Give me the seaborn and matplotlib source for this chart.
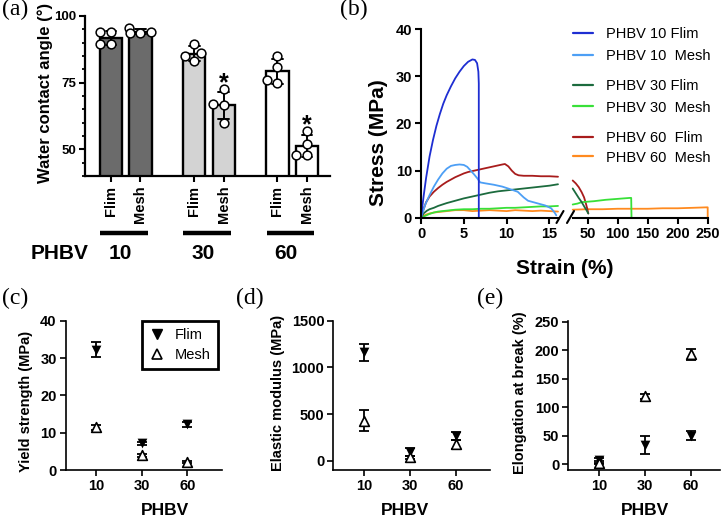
import numpy as np
import pandas as pd
import matplotlib
matplotlib.use("Agg")
import matplotlib.pyplot as plt
from matplotlib.lines import Line2D
from matplotlib.ticker import MultipleLocator
from matplotlib.transforms import blended_transform_factory
import seaborn as sns

# ----------------------------- data -----------------------------
groups = ["10", "30", "60"]
sample_types = ["Flim", "Mesh"]
group_colors = ["#6b6b6b", "#d3d3d3", "#ffffff"]

# (a) water contact angle, individual measurements
wca_10_flim = [94.0, 94.0, 89.5, 89.5]
wca_10_mesh = [95.5, 94.0, 93.5, 93.5]
wca_30_flim = [89.5, 86.0, 83.0, 85.0]
wca_30_mesh = [72.5, 67.0, 66.5, 60.0]
wca_60_flim = [85.0, 81.0, 75.0, 76.0]
wca_60_mesh = [57.0, 52.0, 48.0, 48.0]
significant = [("30", "Mesh"), ("60", "Mesh")]

# (b) stress-strain curves
curve_labels = ["PHBV 10 Flim", "PHBV 10  Mesh", "PHBV 30 Flim",
                "PHBV 30  Mesh", "PHBV 60  Flim", "PHBV 60  Mesh"]
curve_colors = ["#1e2ed2", "#4d9ff5", "#1c6b3e", "#38e038", "#a81c1c", "#ff8a1f"]

# segment 1 (0-16 % strain)
strain_10f_1 = [0, 0.3, 0.6, 1.0, 1.4, 1.8, 2.2, 2.6, 3.0, 3.5, 4.0, 4.5, 5.0, 5.5,
                6.0, 6.3, 6.55, 6.7, 6.75, 6.75]
stress_10f_1 = [0, 4.5, 8.5, 13.0, 16.5, 19.5, 22.0, 24.2, 26.0, 27.9, 29.6, 31.0,
                32.2, 33.1, 33.6, 33.5, 32.8, 31.0, 28.5, 0]
strain_10m_1 = [0, 0.5, 1.0, 1.5, 2.0, 2.5, 3.0, 3.5, 4.0, 4.5, 5.0, 5.4, 5.8, 6.2,
                6.6, 6.9, 7.5, 8.5, 9.5, 10.5, 11.3, 12.0, 12.5, 13.5, 14.5, 15.2,
                15.6, 15.8]
stress_10m_1 = [0, 2.8, 4.8, 6.6, 8.1, 9.4, 10.4, 11.0, 11.2, 11.3, 11.2, 10.8, 10.0,
                9.2, 8.3, 7.5, 7.3, 7.0, 6.6, 6.0, 5.5, 4.3, 3.6, 3.1, 2.6, 2.0,
                1.1, 0.5]
strain_30f_1 = [0, 0.3, 0.7, 1.0, 1.5, 2.0, 3.0, 4.0, 5.0, 6.0, 7.0, 8.0, 9.0, 10.0,
                11.0, 12.0, 13.0, 14.0, 15.0, 16.0]
stress_30f_1 = [0, 0.9, 1.5, 1.8, 2.1, 2.5, 3.1, 3.6, 4.1, 4.5, 4.9, 5.3, 5.6, 5.8,
                6.0, 6.2, 6.4, 6.6, 6.8, 7.1]
strain_30m_1 = [0, 0.5, 1.0, 1.5, 2.0, 3.0, 4.0, 5.0, 6.0, 7.0, 8.0, 9.0, 10.0, 11.0,
                12.0, 13.0, 14.0, 15.0, 16.0]
stress_30m_1 = [0, 0.4, 0.8, 1.1, 1.3, 1.5, 1.7, 1.8, 1.8, 1.9, 1.9, 2.0, 2.1, 2.1,
                2.2, 2.3, 2.4, 2.4, 2.5]
strain_60f_1 = [0, 0.3, 0.6, 1.0, 1.5, 2.0, 2.5, 3.0, 3.5, 4.0, 4.5, 5.0, 5.5, 6.0,
                6.5, 7.0, 7.5, 8.0, 8.5, 9.0, 9.5, 9.8, 10.2, 10.6, 11.0, 11.4, 12.0,
                13.0, 14.0, 15.0, 16.0]
stress_60f_1 = [0, 1.8, 3.3, 4.5, 5.5, 6.3, 7.0, 7.6, 8.1, 8.6, 9.0, 9.4, 9.7, 9.9,
                10.1, 10.3, 10.5, 10.7, 10.9, 11.1, 11.3, 11.4, 10.9, 10.0, 9.3, 9.0,
                8.9, 8.9, 8.8, 8.8, 8.7]
strain_60m_1 = [0, 0.5, 1.0, 1.5, 2.0, 3.0, 4.0, 5.0, 6.0, 7.0, 8.0, 9.0, 10.0, 11.0,
                12.0, 13.0, 14.0, 15.0, 16.0]
stress_60m_1 = [0, 0.6, 0.9, 1.1, 1.2, 1.4, 1.6, 1.6, 1.4, 1.5, 1.6, 1.5, 1.4, 1.6,
                1.5, 1.4, 1.5, 1.4, 1.3]

# segment 2 (25-250 % strain)
strain_30f_2 = [25, 30, 35, 40, 45, 48, 51]
stress_30f_2 = [6.2, 5.2, 4.2, 3.3, 2.2, 1.6, 0.9]
strain_30m_2 = [25, 33, 40, 60, 80, 100, 120, 122.5, 123]
stress_30m_2 = [2.8, 3.0, 3.3, 3.5, 3.8, 4.0, 4.2, 4.2, 0]
strain_60f_2 = [25, 30, 35, 40, 44, 47, 49.5, 51]
stress_60f_2 = [7.9, 7.3, 6.5, 5.4, 4.3, 3.0, 1.8, 0.9]
strain_60m_2 = [25, 50, 75, 100, 125, 150, 175, 200, 225, 248, 250, 250]
stress_60m_2 = [1.7, 1.8, 1.8, 1.9, 1.9, 1.9, 2.0, 2.0, 2.1, 2.2, 2.2, 0]

# (c)-(e) mean and SD
yield_flim = [32.2, 7.1, 12.2]
yield_flim_sd = [2.0, 0.5, 0.7]
yield_mesh = [11.4, 3.9, 2.2]
yield_mesh_sd = [0.6, 0.5, 0.3]
modulus_flim = [1160, 95, 265]
modulus_flim_sd = [95, 40, 45]
modulus_mesh = [430, 35, 175]
modulus_mesh_sd = [115, 15, 50]
elong_flim = [7, 34, 50]
elong_flim_sd = [4, 16, 8]
elong_mesh = [3, 119, 193]
elong_mesh_sd = [2, 4, 10]

# ----------------------------- style -----------------------------
sns.set_theme(style="ticks", rc={"axes.edgecolor": "black", "xtick.color": "black",
                                 "ytick.color": "black", "text.color": "black",
                                 "axes.labelcolor": "black"})
plt.rcParams["font.family"] = ["Liberation Sans", "DejaVu Sans"]
plt.rcParams["font.weight"] = "bold"
plt.rcParams["axes.labelweight"] = "bold"

W, H = 725, 523
fig = plt.figure(figsize=(W / 100, H / 100), dpi=100)


def add_ax(l, t, r, b):
    return fig.add_axes([l / W, 1 - b / H, (r - l) / W, (b - t) / H])


def fx(x):
    return x / W


def fy(y):
    return 1 - y / H


serif = ["Liberation Serif", "DejaVu Serif"]

# ----------------------------- (a) -----------------------------
axA = add_ax(85, 16, 330, 176)
wca_values = {("10", "Flim"): wca_10_flim, ("10", "Mesh"): wca_10_mesh,
              ("30", "Flim"): wca_30_flim, ("30", "Mesh"): wca_30_mesh,
              ("60", "Flim"): wca_60_flim, ("60", "Mesh"): wca_60_mesh}
group_step = 2.82
rec = []
for gi, g in enumerate(groups):
    for ti, t in enumerate(sample_types):
        for v in wca_values[(g, t)]:
            rec.append({"group": g, "type": t, "pos": gi * group_step + ti, "angle": v})
dfa = pd.DataFrame(rec)

sns.barplot(data=dfa, x="pos", y="angle", hue="group", hue_order=groups,
            palette=dict(zip(groups, group_colors)), saturation=1,
            native_scale=True, dodge=False, width=0.75, errorbar="sd",
            capsize=0.36, err_kws={"color": "black", "linewidth": 1.4},
            edgecolor="black", linewidth=1.7, legend=False, ax=axA)
sns.swarmplot(data=dfa, x="pos", y="angle", native_scale=True, color="white",
              edgecolor="black", linewidth=1.1, size=6.3, ax=axA, zorder=5)

positions = sorted(dfa["pos"].unique())
axA.set_xticks(positions)
axA.set_xticklabels([t for g in groups for t in sample_types], rotation=90, fontsize=10.5)
axA.set_xlim(-0.88, 7.42)
axA.set_ylim(40, 100)
axA.set_yticks([50, 75, 100])
axA.yaxis.set_minor_locator(MultipleLocator(5))
axA.tick_params(axis="y", which="major", labelsize=9.5, length=4, width=1.5, pad=2)
axA.tick_params(axis="y", which="minor", length=2.5, width=1.3)
axA.tick_params(axis="x", which="major", length=4, width=1.5, pad=3)
axA.set_xlabel("")
axA.set_ylabel("Water contact angle (°)", fontsize=12)
axA.yaxis.set_label_coords(-0.131, 0.52)
sns.despine(ax=axA)
for s in ("left", "bottom"):
    axA.spines[s].set_linewidth(1.6)

for g, t in significant:
    vals = np.array(wca_values[(g, t)])
    top = vals.mean() + vals.std(ddof=1)
    pos = groups.index(g) * group_step + sample_types.index(t)
    axA.text(pos, top + 0.7, "*", ha="center", va="baseline", fontsize=18)

tr = blended_transform_factory(axA.transData, axA.transAxes)
for gi, g in enumerate(groups):
    p0 = gi * group_step
    axA.plot([p0 - 0.37, p0 + 1.25], [-0.358, -0.358], transform=tr, color="black",
             lw=3.2, solid_capstyle="butt", clip_on=False)
    axA.text(p0 + 0.3, -0.483, g, transform=tr, ha="center", va="center", fontsize=15)
axA.text(-1.73, -0.483, "PHBV", transform=tr, ha="center", va="center", fontsize=15)

# ----------------------------- (b) -----------------------------
axB1 = add_ax(421, 29.3, 558, 217.7)
axB2 = add_ax(572.7, 29.3, 707.7, 217.7)
palette_b = dict(zip(curve_labels, curve_colors))

seg1 = [(curve_labels[0], strain_10f_1, stress_10f_1),
        (curve_labels[1], strain_10m_1, stress_10m_1),
        (curve_labels[2], strain_30f_1, stress_30f_1),
        (curve_labels[3], strain_30m_1, stress_30m_1),
        (curve_labels[4], strain_60f_1, stress_60f_1),
        (curve_labels[5], strain_60m_1, stress_60m_1)]
seg2 = [(curve_labels[2], strain_30f_2, stress_30f_2),
        (curve_labels[3], strain_30m_2, stress_30m_2),
        (curve_labels[4], strain_60f_2, stress_60f_2),
        (curve_labels[5], strain_60m_2, stress_60m_2)]


def seg_frame(seg):
    r = []
    for lab, xs, ys in seg:
        for i, (x, y) in enumerate(zip(xs, ys)):
            r.append({"sample": lab, "strain": x, "stress": y, "order": i})
    return pd.DataFrame(r)


df1 = seg_frame(seg1)
df2 = seg_frame(seg2)
order1 = [c for c in reversed(curve_labels) if c in set(df1["sample"])]
order2 = [c for c in reversed(curve_labels) if c in set(df2["sample"])]
sns.lineplot(data=df1, x="strain", y="stress", hue="sample", hue_order=order1,
             palette=palette_b, estimator=None, sort=False, legend=False,
             linewidth=1.3, ax=axB1, clip_on=False)
sns.lineplot(data=df2, x="strain", y="stress", hue="sample", hue_order=order2,
             palette=palette_b, estimator=None, sort=False, legend=False,
             linewidth=1.3, ax=axB2, clip_on=False)

axB1.set_xlim(0, 16)
axB1.set_xticks([0, 5, 10, 15])
axB1.set_ylim(0, 40)
axB1.set_yticks([0, 10, 20, 30, 40])
axB2.set_xlim(25, 250)
axB2.set_xticks([50, 100, 150, 200, 250])
axB2.set_ylim(0, 40)
sns.despine(ax=axB1)
sns.despine(ax=axB2, left=True)
axB2.tick_params(left=False, labelleft=False)
for ax in (axB1, axB2):
    ax.set_xlabel("")
    ax.tick_params(axis="both", labelsize=10.5, length=4, width=1.5, pad=2.5)
    for s in ("left", "bottom"):
        ax.spines[s].set_linewidth(1.5)
axB2.set_ylabel("")
axB1.set_ylabel("Stress (MPa)", fontsize=15)
axB1.yaxis.set_label_coords(-0.24, 0.40)
fig.text(fx(565), fy(259), "Strain (%)", ha="center", va="top", fontsize=15,
         fontweight="bold")

# axis break marks
for x0 in (556.5, 567):
    fig.add_artist(Line2D([fx(x0), fx(x0 + 7)], [fy(223), fy(211)], color="black", lw=1.5))

# legend of (b)
legend_rows = [33, 55, 85, 106, 137, 156]
for lab, col, yr in zip(curve_labels, curve_colors, legend_rows):
    fig.add_artist(Line2D([fx(573), fx(593)], [fy(yr), fy(yr)], color=col, lw=1.6))
    fig.text(fx(606), fy(yr), lab, ha="left", va="center_baseline", fontsize=10.5,
             fontweight="normal")

# ----------------------------- (c)-(e) -----------------------------


def scatter_panel(ax, flim, flim_sd, mesh, mesh_sd, ylim, yticks, ylabel,
                  xlim, ylab_xy, xlab_xy):
    df = pd.DataFrame({"PHBV": groups * 2,
                       "type": ["Flim"] * len(groups) + ["Mesh"] * len(groups),
                       "value": flim + mesh, "sd": flim_sd + mesh_sd})
    sns.stripplot(data=df[df["type"] == "Flim"], x="PHBV", y="value", order=groups,
                  jitter=False, marker="v", color="black", size=7, linewidth=0,
                  ax=ax, zorder=4, clip_on=False)
    sns.stripplot(data=df[df["type"] == "Mesh"], x="PHBV", y="value", order=groups,
                  jitter=False, marker="^", color="white", edgecolor="black",
                  linewidth=1.2, size=7, ax=ax, zorder=4, clip_on=False)
    for t in sample_types:
        sub = df[df["type"] == t]
        ax.errorbar(np.arange(len(groups)), sub["value"], yerr=sub["sd"], fmt="none",
                    ecolor="black", elinewidth=1.3, capsize=3.6, capthick=1.3,
                    zorder=3, clip_on=False)
    ax.set_xlim(*xlim)
    ax.set_ylim(*ylim)
    ax.set_yticks(yticks)
    ax.set_ylabel(ylabel, fontsize=10.5)
    ax.set_xlabel("PHBV", fontsize=12.5)
    ax.yaxis.set_label_coords(*ylab_xy)
    ax.xaxis.set_label_coords(*xlab_xy)
    ax.tick_params(axis="both", labelsize=10.5, length=4, width=1.2, pad=2.5)
    sns.despine(ax=ax)
    for s in ("left", "bottom"):
        ax.spines[s].set_linewidth(1.2)


axC = add_ax(65.7, 320.7, 221.7, 470)
scatter_panel(axC, yield_flim, yield_flim_sd, yield_mesh, yield_mesh_sd,
              (0, 40), [0, 10, 20, 30, 40], "Yield strength (MPa)",
              (-0.66, 2.75), (-0.21, 0.462), (0.635, -0.222))
handles = [Line2D([], [], marker="v", ls="none", color="black", markersize=7),
           Line2D([], [], marker="^", ls="none", mfc="white", mec="black",
                  mew=1.2, markersize=7)]
leg = axC.legend(handles, sample_types, loc="upper right", bbox_to_anchor=(0.978, 1.0),
                 frameon=True, fancybox=False, edgecolor="black", framealpha=1,
                 borderaxespad=0, borderpad=0.5, handlelength=1.06, handletextpad=0.74,
                 labelspacing=0.4, prop={"weight": "normal", "size": 10.5})
leg.get_frame().set_linewidth(2)

axD = add_ax(333.3, 320.7, 490, 470)
scatter_panel(axD, modulus_flim, modulus_flim_sd, modulus_mesh, modulus_mesh_sd,
              (-100, 1500), [0, 500, 1000, 1500], "Elastic modulus (MPa)",
              (-0.67, 2.75), (-0.308, 0.519), (0.456, -0.222))

axE = add_ax(568.3, 320.7, 720, 470)
scatter_panel(axE, elong_flim, elong_flim_sd, elong_mesh, elong_mesh_sd,
              (-10, 252), [0, 50, 100, 150, 200, 250], "Elongation at break (%)",
              (-0.68, 2.63), (-0.272, 0.515), (0.503, -0.222))

# panel letters
for lab, x, y in [("(a)", 2, -1), ("(b)", 340, -1), ("(c)", 2, 288),
                  ("(d)", 236, 288), ("(e)", 477, 288)]:
    fig.text(fx(x), fy(y), lab, ha="left", va="top", fontsize=17,
             fontweight="normal", family=serif)

fig.savefig("out.png", dpi=100)
